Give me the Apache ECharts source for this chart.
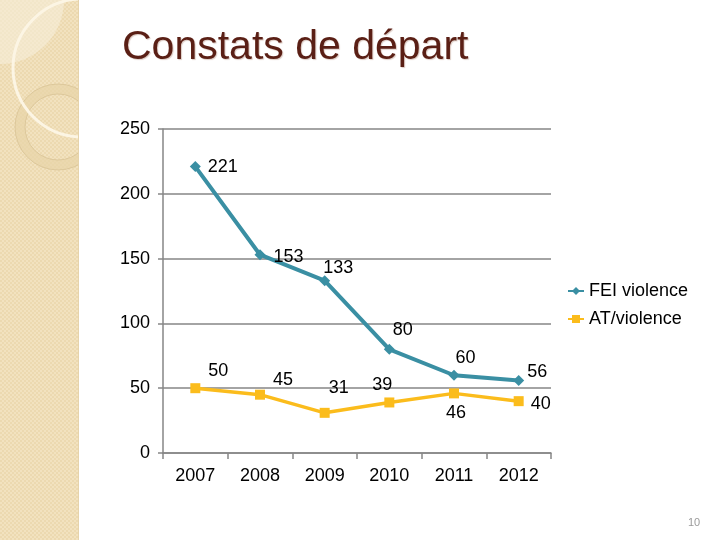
<!DOCTYPE html>
<html>
<head>
<meta charset="UTF-8">
<title>Constats de départ</title>
<script src="https://cdn.jsdelivr.net/npm/echarts@6/dist/echarts.min.js"></script>
<style>
  html, body { margin: 0; padding: 0; background: #fff; }
  #page { position: relative; width: 720px; height: 540px; overflow: hidden; }
  #band { position: absolute; left: 0; top: 0; width: 79px; height: 540px; }
  #title { position: absolute; left: 122px; top: 22px; font-family: "Liberation Sans", Arial, sans-serif;
           font-size: 41px; line-height: 47px; color: #5a1f15; text-shadow: 1px 1px 1px #dccbc4; white-space: nowrap; }
  #pnum { position: absolute; left: 688px; top: 516px; font-family: "Liberation Sans", Arial, sans-serif;
          font-size: 11px; color: #9a9a9a; }
  #chart { position: absolute; left: 0; top: 0; width: 720px; height: 540px; }
</style>
</head>
<body>
<div id="page">
  <svg id="band" width="79" height="540">
    <defs>
      <pattern id="chk" width="4" height="4" patternUnits="userSpaceOnUse">
        <rect width="4" height="4" fill="#f2e2bf"/>
        <rect width="2" height="2" fill="#ecd9b0"/>
        <rect x="2" y="2" width="2" height="2" fill="#ecd9b0"/>
      </pattern>
    </defs>
    <rect width="79" height="540" fill="url(#chk)"/>
    <circle cx="0" cy="0" r="64" fill="#f7eedb" opacity="0.6"/>
    <circle cx="58" cy="127" r="38" fill="none" stroke="#e8d4a8" stroke-width="10" opacity="0.7"/>
    <circle cx="58" cy="127" r="43" fill="none" stroke="#d6c092" stroke-width="0.7"/>
    <circle cx="58" cy="127" r="33" fill="none" stroke="#d6c092" stroke-width="0.7"/>
    <circle cx="82" cy="68" r="69" fill="none" stroke="#fcf5e4" stroke-width="3"/>
    <line x1="78.5" y1="0" x2="78.5" y2="540" stroke="#e6d3aa" stroke-width="1"/>
  </svg>
  <div id="chart"></div>
  <div id="title">Constats de départ</div>
  <div id="pnum">10</div>
</div>
<script>
var years = ['2007', '2008', '2009', '2010', '2011', '2012'];
var feiViolence = [221, 153, 133, 80, 60, 56];
var atViolence = [50, 45, 31, 39, 46, 40];
var yTicks = [0, 50, 100, 150, 200, 250];

// décalage des étiquettes, point par point
var feiLabelPos = [[2, 0], [3, 2], [-12, -13], [-7, -19], [-9, -17], [-2, -8]];
var atLabelPos = [[3, -17], [3, -15], [-6, -25], [-27, -17], [-18, 20], [2, 3]];

function withLabels(values, offs) {
  return values.map(function (v, i) {
    return { value: v, label: { offset: offs[i] } };
  });
}

var chart = echarts.init(document.getElementById('chart'), null, { renderer: 'canvas' });
var font = '"Liberation Sans", Arial, sans-serif';

var option = {
  animation: false,
  backgroundColor: 'transparent',
  textStyle: { fontFamily: font },
  grid: { left: 163, top: 129, right: 169, bottom: 87 },
  legend: {
    orient: 'vertical',
    left: 562,
    top: 277,
    itemWidth: 16,
    itemHeight: 10,
    itemGap: 10,
    textStyle: { fontFamily: font, fontSize: 18, color: '#000' },
    data: ['FEI violence', 'AT/violence']
  },
  xAxis: {
    type: 'category',
    data: years,
    boundaryGap: true,
    axisLine: { lineStyle: { color: '#868686', width: 1.5 } },
    axisTick: { show: true, length: 6, alignWithLabel: false, lineStyle: { color: '#868686', width: 1.5 } },
    axisLabel: { fontFamily: font, fontSize: 18, color: '#000', margin: 14 }
  },
  yAxis: {
    type: 'value',
    min: yTicks[0],
    max: yTicks[yTicks.length - 1],
    interval: 50,
    axisLine: { show: true, lineStyle: { color: '#868686', width: 1.5 } },
    axisTick: { show: true, length: 5, lineStyle: { color: '#868686', width: 1.5 } },
    axisLabel: { fontFamily: font, fontSize: 18, color: '#000', margin: 13 },
    splitLine: { lineStyle: { color: '#868686', width: 1.5 } }
  },
  series: [
    {
      name: 'FEI violence',
      type: 'line',
      data: withLabels(feiViolence, feiLabelPos),
      symbol: 'diamond',
      symbolSize: 11,
      color: '#3a8fa3',
      lineStyle: { width: 4, color: '#3a8fa3' },
      itemStyle: { color: '#3a8fa3' },
      label: { show: true, position: 'right', fontFamily: font, fontSize: 18, color: '#000' },
      z: 3
    },
    {
      name: 'AT/violence',
      type: 'line',
      data: withLabels(atViolence, atLabelPos),
      symbol: 'rect',
      symbolSize: 10,
      color: '#fbbc1c',
      lineStyle: { width: 3.5, color: '#fbbc1c' },
      itemStyle: { color: '#fbbc1c' },
      label: { show: true, position: 'right', fontFamily: font, fontSize: 18, color: '#000' },
      z: 2
    }
  ]
};
chart.setOption(option);
</script>
</body>
</html>
